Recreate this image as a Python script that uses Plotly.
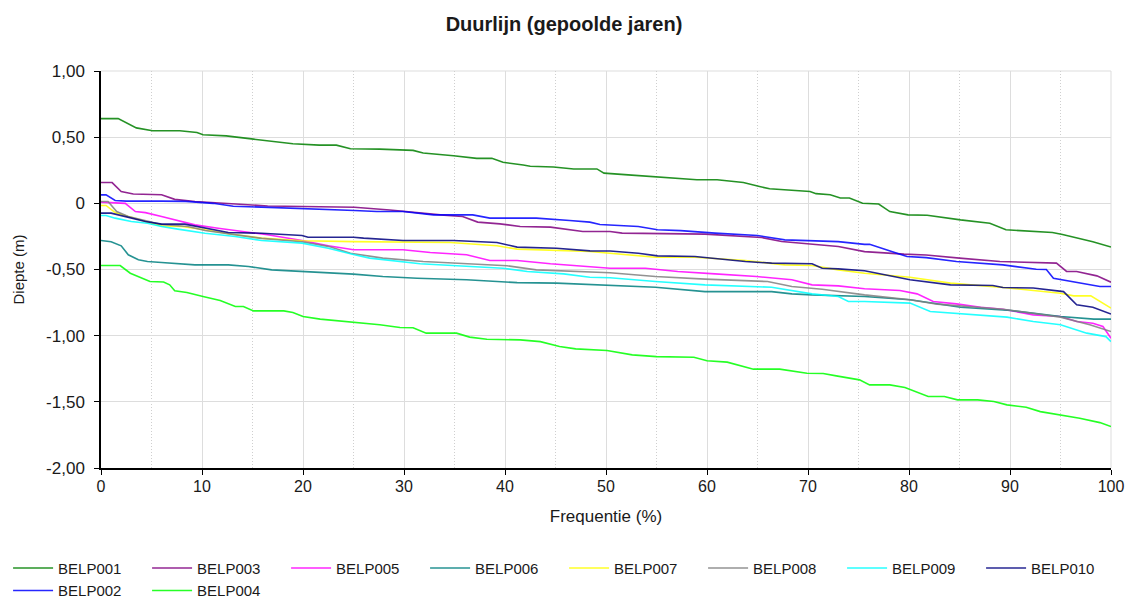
import plotly.graph_objects as go

# ---------------- data ----------------
belp001_x = [0, 1.7, 3.5, 5.1, 7.8, 9.5, 10.1, 12.4, 15.1, 17.4, 19, 21.6, 23.3, 24.7, 27.6, 30.9, 31.9, 34.9, 37.2, 38.7,
             39.8, 41.8, 42.5, 44.8, 46.8, 49.1, 49.8, 52.2, 55, 59, 61, 63.6, 65.2, 66.2, 70.2, 70.8, 72.2, 73.2, 74.1,
             75.4, 77, 78.1, 79.9, 81.8, 85.1, 88, 89.6, 91.6, 94.2, 95.2, 98.2, 100]
belp001_y = [0.64, 0.64, 0.57, 0.548, 0.548, 0.535, 0.518, 0.51, 0.485, 0.467, 0.45, 0.44, 0.44, 0.412, 0.41, 0.40, 0.38,
             0.36, 0.34, 0.34, 0.31, 0.29, 0.28, 0.275, 0.26, 0.26, 0.228, 0.215, 0.20, 0.178, 0.178, 0.157, 0.127, 0.11,
             0.09, 0.073, 0.065, 0.04, 0.04, 0.0, -0.005, -0.062, -0.087, -0.09, -0.125, -0.15, -0.2, -0.21, -0.22,
             -0.235, -0.29, -0.33]

belp002_x = [0, 0.5, 1.4, 2.5, 6, 8.4, 11.1, 13.1, 15.9, 22.5, 25.1, 27.3, 29.9, 32.9, 36.8, 38.5, 43.1, 46.4, 48.4,
             49.4, 50.4, 53.2, 55.1, 57.4, 60.8, 65, 67.7, 73, 75.6, 76.1, 79.8, 81.7, 84.7, 89.3, 92.6, 93.6, 94.3,
             95.9, 98.2, 98.9, 100]
belp002_y = [0.064, 0.064, 0.021, 0.017, 0.017, 0.015, 0.0, -0.022, -0.029, -0.044, -0.054, -0.062, -0.062, -0.087,
             -0.087, -0.112, -0.112, -0.13, -0.142, -0.16, -0.163, -0.175, -0.2, -0.206, -0.225, -0.243, -0.276, -0.289,
             -0.31, -0.31, -0.402, -0.41, -0.44, -0.465, -0.498, -0.5, -0.566, -0.586, -0.616, -0.629, -0.629]

belp003_x = [0, 1.1, 2.0, 3.2, 6, 7.3, 9.3, 14.3, 16.5, 25.1, 28.6, 33.6, 35.8, 37.3, 39.5, 41.5, 44.5, 47.7, 50.4, 51.6,
             59.8, 65.4, 67.4, 73, 75.6, 79.5, 81.7, 85, 89, 94.6, 95.6, 96.6, 98.6, 100]
belp003_y = [0.157, 0.157, 0.089, 0.07, 0.065, 0.03, 0.014, -0.006, -0.02, -0.03, -0.05, -0.087, -0.1, -0.142, -0.155,
             -0.175, -0.18, -0.213, -0.213, -0.225, -0.233, -0.258, -0.289, -0.326, -0.365, -0.384, -0.39, -0.414,
             -0.44, -0.452, -0.515, -0.515, -0.548, -0.596]

belp004_x = [0, 1.9, 2.9, 4.85, 6.2, 6.8, 7.3, 8.5, 10.1, 11.8, 13.3, 14.1, 15.1, 18.1, 19, 20, 21.7, 23.3, 24.7, 27.6,
             29.6, 30.9, 32.2, 35.2, 36.5, 38.2, 41.5, 43.5, 45.4, 47, 50.1, 52.6, 55, 58.7, 60, 62, 64.6, 67.2, 69.9,
             71.5, 72.8, 75.1, 76.1, 78.1, 79.6, 80.6, 81.9, 83.5, 84.8, 86.8, 88.4, 89.7, 91.6, 93, 95, 96.9, 98.9, 100]
belp004_y = [-0.47, -0.47, -0.528, -0.591, -0.595, -0.616, -0.661, -0.674, -0.704, -0.734, -0.78, -0.78, -0.813, -0.813,
             -0.825, -0.855, -0.875, -0.886, -0.893, -0.918, -0.938, -0.94, -0.981, -0.981, -1.011, -1.027, -1.032,
             -1.045, -1.082, -1.1, -1.112, -1.145, -1.158, -1.163, -1.19, -1.2, -1.253, -1.253, -1.284, -1.286, -1.304,
             -1.334, -1.372, -1.372, -1.392, -1.422, -1.46, -1.46, -1.485, -1.485, -1.498, -1.523, -1.541, -1.574,
             -1.599, -1.624, -1.657, -1.687]

belp005_x = [0, 2.4, 3.4, 4.4, 6, 7.3, 9.3, 11.6, 13.9, 16.5, 19.9, 22.5, 25, 29.9, 32.6, 36.2, 38.5, 41.2, 44.5, 47.7,
             50.4, 53.9, 57.1, 60.8, 64.9, 68.4, 70.4, 73, 75.6, 79.1, 80.8, 82.4, 84.7, 87.1, 89.3, 92.3, 95, 96.6,
             98.2, 99.2, 100]
belp005_y = [0.009, 0.0, -0.062, -0.07, -0.1, -0.125, -0.163, -0.188, -0.213, -0.238, -0.281, -0.321, -0.351, -0.351,
             -0.372, -0.389, -0.432, -0.432, -0.457, -0.477, -0.49, -0.49, -0.515, -0.533, -0.553, -0.578, -0.616,
             -0.624, -0.645, -0.659, -0.684, -0.742, -0.76, -0.785, -0.8, -0.843, -0.855, -0.893, -0.906, -0.931, -1.019]

belp006_x = [0, 1, 2, 2.7, 3.7, 4.6, 6, 8, 9.3, 12.6, 14.6, 16.9, 19.9, 22.5, 25, 27.9, 31.3, 36.2, 41.2, 45.1, 48.4,
             50.4, 54.9, 59.8, 66.4, 68.4, 70.4, 75.6, 80.1, 85.1, 90.1, 95, 98.3, 100]
belp006_y = [-0.281, -0.29, -0.321, -0.389, -0.427, -0.44, -0.447, -0.457, -0.465, -0.465, -0.477, -0.503, -0.515,
             -0.528, -0.535, -0.553, -0.566, -0.578, -0.599, -0.603, -0.615, -0.617, -0.634, -0.667, -0.667, -0.684,
             -0.692, -0.704, -0.729, -0.785, -0.81, -0.855, -0.875, -0.875]

belp007_x = [0, 0.5, 1.4, 2.7, 6, 8, 10.3, 12.6, 15.9, 19.9, 25, 34.6, 39.2, 41.2, 48.4, 50.4, 54.9, 58.8, 63.8, 67.7,
             70.4, 73, 75.6, 80.1, 84.1, 89.3, 95, 96.3, 98, 100]
belp007_y = [-0.016, -0.016, -0.07, -0.1, -0.17, -0.175, -0.2, -0.23, -0.263, -0.283, -0.289, -0.296, -0.321, -0.346,
             -0.364, -0.377, -0.407, -0.407, -0.432, -0.465, -0.47, -0.503, -0.528, -0.558, -0.603, -0.636, -0.679,
             -0.699, -0.699, -0.792]

belp008_x = [0, 0.7, 1.55, 2.7, 6, 8.6, 10.3, 13.3, 15.9, 19.9, 22.5, 24.7, 27.9, 31.9, 35.5, 40.2, 43.1, 47.4, 50.4,
             54.9, 59.8, 66, 68.4, 71.4, 75.6, 80.1, 82.8, 89.3, 95, 97.9, 100]
belp008_y = [0.014, 0.014, -0.062, -0.1, -0.16, -0.175, -0.205, -0.235, -0.265, -0.29, -0.325, -0.377, -0.414, -0.44,
             -0.452, -0.472, -0.503, -0.515, -0.525, -0.553, -0.573, -0.591, -0.629, -0.649, -0.692, -0.729, -0.762,
             -0.8, -0.86, -0.918, -0.969]

belp009_x = [0, 0.5, 1.4, 3, 4.6, 6, 7.6, 10.3, 13.3, 15.9, 19.9, 22.5, 25.1, 26.6, 31.6, 36.2, 39.8, 42.2, 45.8, 48.4,
             50.4, 54.9, 59.8, 66.4, 70.4, 73, 74, 75.6, 80.1, 82.1, 86.7, 89.7, 92.3, 95, 97.6, 99.5, 100]
belp009_y = [-0.092, -0.092, -0.112, -0.137, -0.15, -0.175, -0.195, -0.226, -0.251, -0.281, -0.301, -0.339, -0.389,
             -0.414, -0.457, -0.477, -0.49, -0.515, -0.533, -0.558, -0.562, -0.591, -0.616, -0.634, -0.684, -0.704,
             -0.742, -0.742, -0.754, -0.818, -0.843, -0.86, -0.893, -0.918, -0.981, -1.007, -1.045]

belp010_x = [0, 1, 4.4, 6, 8.3, 10.3, 12.6, 15.9, 19.9, 20.5, 25, 26, 29.9, 34.9, 39.2, 41.2, 45.1, 48.4, 50.4, 53.2,
             55.1, 58.8, 63.8, 66.4, 70.4, 71.4, 73, 75.6, 77.1, 80.1, 84.1, 88.3, 89.3, 92.3, 95.3, 96.6, 98.2, 100]
belp010_y = [-0.074, -0.074, -0.137, -0.157, -0.157, -0.188, -0.22, -0.226, -0.243, -0.256, -0.256, -0.263, -0.281,
             -0.281, -0.296, -0.331, -0.339, -0.359, -0.36, -0.377, -0.397, -0.402, -0.44, -0.452, -0.457, -0.49,
             -0.495, -0.51, -0.533, -0.578, -0.616, -0.621, -0.636, -0.64, -0.667, -0.767, -0.785, -0.837]

y_tickvals = [1.0, 0.5, 0.0, -0.5, -1.0, -1.5, -2.0]
y_ticktext = ["1,00", "0,50", "0", "-0,50", "-1,00", "-1,50", "-2,00"]
x_tickvals = [0, 10, 20, 30, 40, 50, 60, 70, 80, 90, 100]

# legend order: first row 001,003,005..010, second row 002,004
series = [
    ("BELP001", belp001_x, belp001_y, "#008000"),
    ("BELP003", belp003_x, belp003_y, "#800080"),
    ("BELP005", belp005_x, belp005_y, "#ff00ff"),
    ("BELP006", belp006_x, belp006_y, "#008080"),
    ("BELP007", belp007_x, belp007_y, "#ffff00"),
    ("BELP008", belp008_x, belp008_y, "#808080"),
    ("BELP009", belp009_x, belp009_y, "#00ffff"),
    ("BELP010", belp010_x, belp010_y, "#000080"),
    ("BELP002", belp002_x, belp002_y, "#0000ff"),
    ("BELP004", belp004_x, belp004_y, "#00ff00"),
]

FONT = "Liberation Sans, Arial, sans-serif"
TXT = "#1a1a1a"

fig = go.Figure()
for name, xs, ys, col in series:
    fig.add_trace(go.Scatter(x=xs, y=ys, mode="lines", name=name,
                             line=dict(color=col, width=1.6), opacity=0.85))

fig.update_layout(
    width=1128, height=599,
    margin=dict(l=101, r=17, t=71, b=131, autoexpand=False),
    paper_bgcolor="white", plot_bgcolor="white",
    font=dict(family=FONT, size=16, color=TXT),
    title=dict(text="<b>Duurlijn (gepoolde jaren)</b>", x=0.5, xanchor="center",
               xref="container", y=1 - 24 / 599, yanchor="middle", yref="container",
               font=dict(family=FONT, size=20, color=TXT)),
    showlegend=True,
    legend=dict(orientation="h", x=-0.092, xanchor="left", y=-0.211, yanchor="top",
                font=dict(family=FONT, size=15, color=TXT),
                itemwidth=40, entrywidth=84, entrywidthmode="pixels", tracegroupgap=0,
                bgcolor="rgba(0,0,0,0)"),
)

fig.update_xaxes(
    range=[0, 100], tickvals=x_tickvals, ticks="outside", ticklen=5, tickcolor="#000000",
    showline=True, linecolor="#000000", linewidth=1.5, zeroline=False, automargin=False,
    showgrid=True, gridcolor="#dddddd", gridwidth=1, ticklabelstandoff=-2,
    minor=dict(dtick=5, tick0=0, showgrid=True, gridcolor="#cfcfcf", griddash="1px,2px", ticklen=0),
    tickfont=dict(family=FONT, size=16, color=TXT),
    title=dict(text="Frequentie (%)", font=dict(family=FONT, size=17, color=TXT), standoff=16),
)
fig.update_yaxes(
    range=[-2, 1], tickvals=y_tickvals, ticktext=y_ticktext, ticks="outside", ticklen=5, tickcolor="#000000",
    showline=True, linecolor="#000000", linewidth=1.5, zeroline=False, automargin=False,
    showgrid=True, gridcolor="#dddddd", gridwidth=1, ticklabelstandoff=6,
    tickfont=dict(family=FONT, size=17, color=TXT),
    title=dict(text="Diepte (m)", font=dict(family=FONT, size=15, color=TXT), standoff=18),
)

# light border on top and right like the reference
fig.add_shape(type="line", xref="paper", yref="paper", x0=0, x1=1, y0=1, y1=1,
              line=dict(color="#dddddd", width=1), layer="below")
fig.add_shape(type="line", xref="paper", yref="paper", x0=1, x1=1, y0=0, y1=1,
              line=dict(color="#dddddd", width=1), layer="below")

fig.write_html("out.html")
